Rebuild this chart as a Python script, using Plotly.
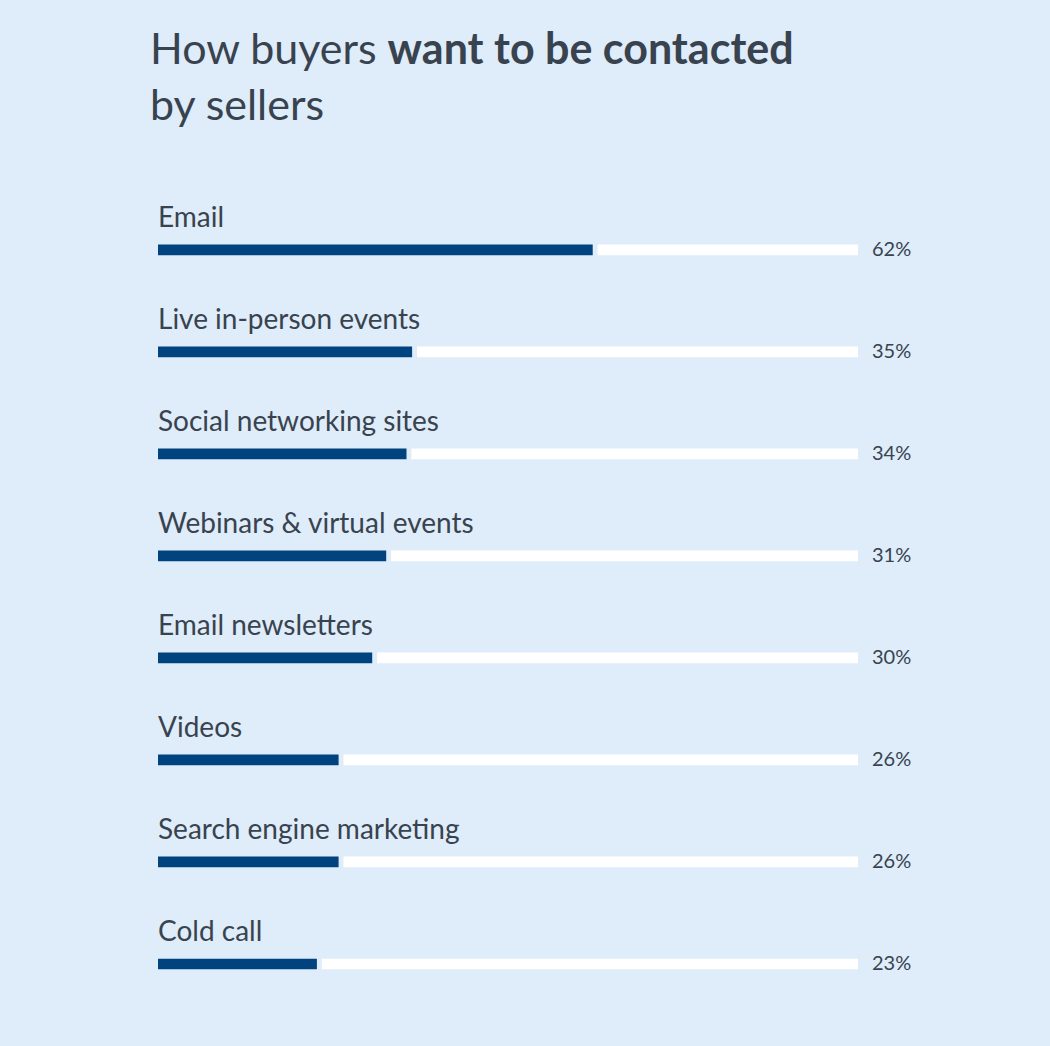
import plotly.graph_objects as go

categories = ["Email", "Live in-person events", "Social networking sites",
              "Webinars & virtual events", "Email newsletters", "Videos",
              "Search engine marketing", "Cold call"]
# bar lengths as drawn in the picture (percent of the track)
bar_values = [62.1, 36.3, 35.5, 32.6, 30.6, 25.8, 25.8, 22.7]
# printed labels
value_labels = ["62%", "35%", "34%", "31%", "30%", "26%", "26%", "23%"]

BG = "#dfecf9"
BLUE = "#00437f"
TEXT = "#38434f"
GAP = 0.7
rows = list(range(len(categories)))

T, B, L, R = 158, 31, 158, 192
PLOT_H = 1046 - T - B

fig = go.Figure()
# white remainder track
fig.add_trace(go.Bar(
    y=rows, x=[100 - v - GAP for v in bar_values], base=[v + GAP for v in bar_values],
    orientation="h", marker=dict(color="white", line=dict(width=0)),
    width=0.105, hoverinfo="skip", showlegend=False))
# value bar
fig.add_trace(go.Bar(
    y=rows, x=bar_values, base=[0] * len(bar_values),
    orientation="h", marker=dict(color=BLUE, line=dict(width=0)),
    width=0.105, showlegend=False, hovertext=categories))

for i, (c, lab) in enumerate(zip(categories, value_labels)):
    fig.add_annotation(x=0, y=i - 0.33, text=c, xref="x", yref="y",
                       xanchor="left", yanchor="middle", showarrow=False, xshift=-2,
                       font=dict(size=28, color=TEXT, family="Lato"))
    fig.add_annotation(x=100, y=i, text=lab, xref="x", yref="y",
                       xanchor="left", yanchor="middle", showarrow=False,
                       xshift=12, yshift=2,
                       font=dict(size=20, color=TEXT, family="Lato"))

fig.add_annotation(
    text="How buyers <b>want to be contacted</b><br>by sellers",
    xref="paper", yref="paper", x=(150 - L) / 700 - 0.003, y=1 + (T - 20) / PLOT_H,
    xanchor="left", yanchor="top", align="left", showarrow=False,
    font=dict(size=43, color=TEXT, family="Lato"))

fig.update_layout(
    width=1050, height=1046,
    paper_bgcolor=BG, plot_bgcolor=BG,
    margin=dict(l=L, r=R, t=T, b=B),
    barmode="overlay",
    xaxis=dict(range=[0, 100], visible=False, fixedrange=True),
    yaxis=dict(range=[7.5, -0.9], visible=False, fixedrange=True),
)

fig.write_html("out.html", config={"displayModeBar": False},
               post_script="document.body.style.margin='0';document.body.style.background='%s';" % BG)
